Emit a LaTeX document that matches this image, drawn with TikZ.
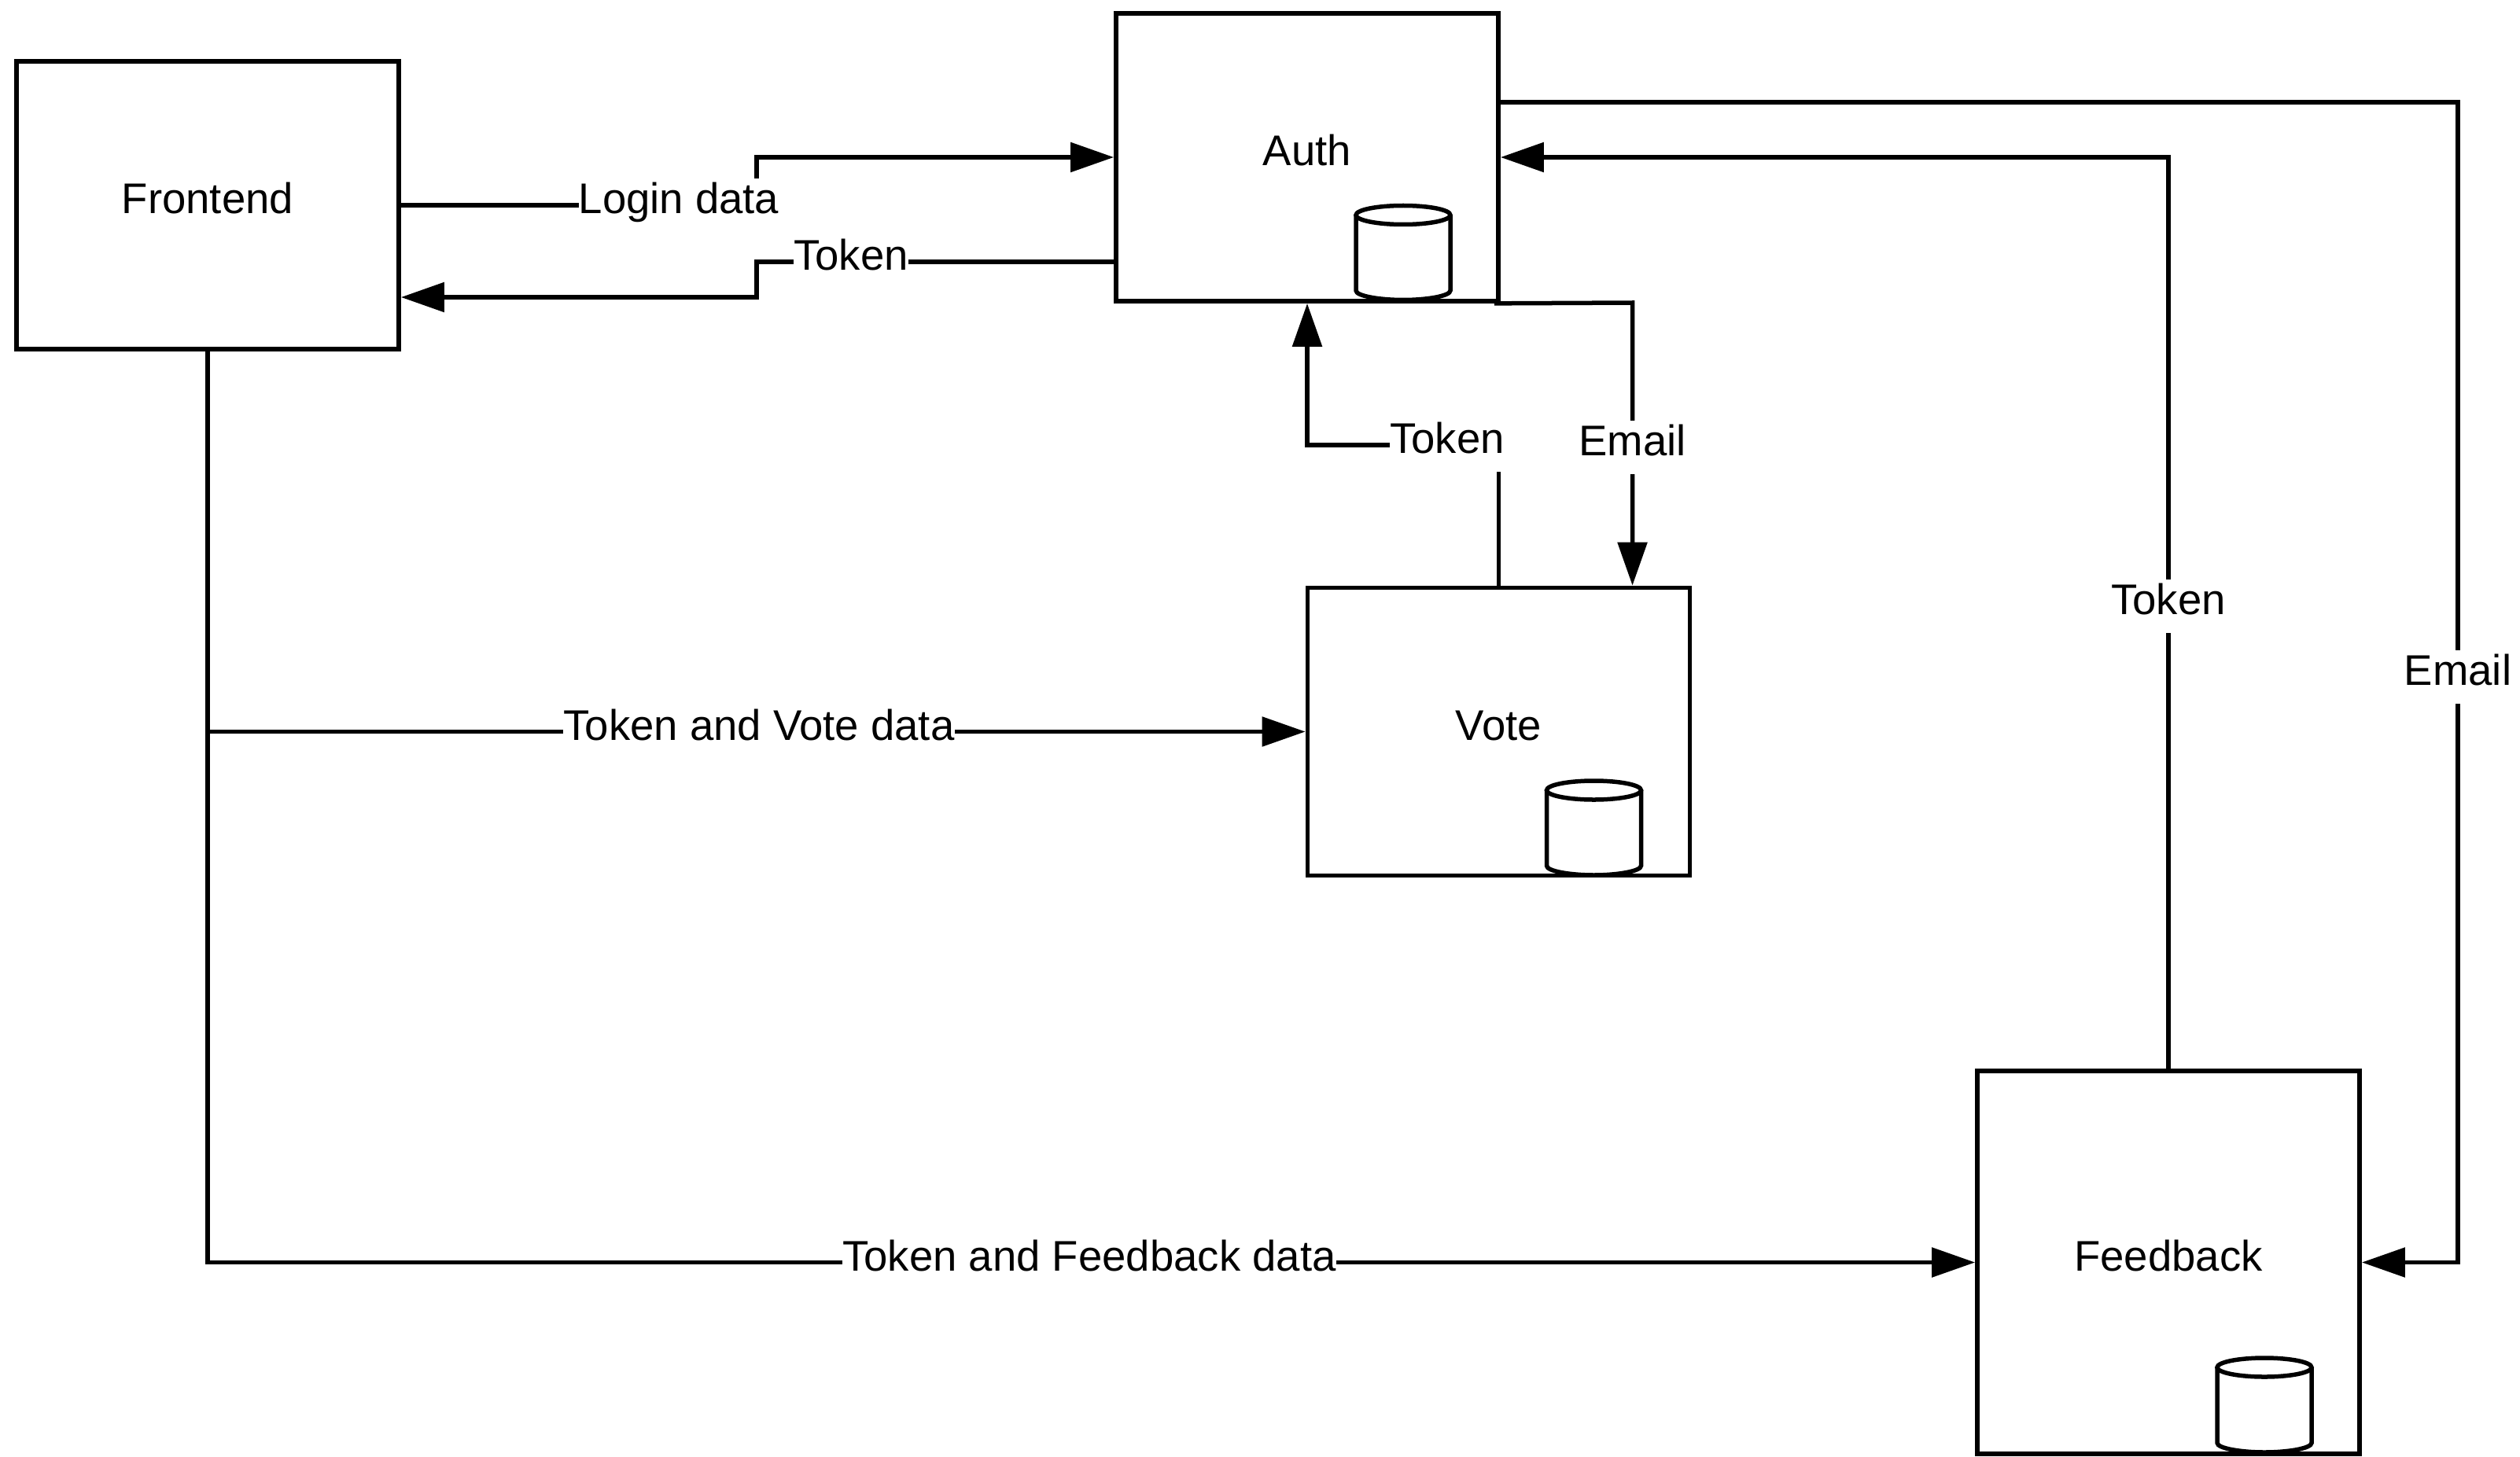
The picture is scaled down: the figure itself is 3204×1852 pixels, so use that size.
\documentclass[tikz,border=0pt]{standalone}
\usepackage{fontspec}
\setmainfont{Liberation Sans}
\usetikzlibrary{arrows.meta,calc}

\tikzset{
  service/.style={draw, inner sep=0pt, minimum width=4.86cm, minimum height=3.66cm, text height=0.44cm, text depth=0.23cm},
  flowlabel/.style={fill=white, inner sep=0pt, text height=0.44cm, text depth=0.23cm},
  flow/.style={-{Triangle[length=0.55cm,width=0.37cm]}},
  store/.pic={
    \draw (0,12) circle [x radius=60, y radius=12];
    \draw (-60,12) -- (-60,108) .. controls (-60,115) and (-30,120) .. (0,120) .. controls (30,120) and (60,115) .. (60,108) -- (60,12);
  }
}

\begin{document}
\begin{tikzpicture}[x=0.01cm, y=-0.01cm, line width=0.055cm, font=\fontsize{15.5pt}{18pt}\selectfont]
    \useasboundingbox (0,0) rectangle (3204,1852);

    \node[service] (frontend) at (264,261) { Frontend };
    \node[service] (auth) at (1662,200) { Auth };
    \node[service] (vote) at (1905.5,930.5) { Vote };
    \node[service, minimum height=4.87cm] (feedback) at (2757,1605.5) { Feedback };

    \pic at (1784,261.5) {store};
    \pic at (2026.5,993) {store};
    \pic at (2879,1727) {store};

    \coordinate (loginbend) at (962,200);
    \coordinate (tokenup) at (962,333);
    \coordinate (tokenlow) at (962,378);
    \coordinate (votebend) at (1662,566);
    \coordinate (emailbend) at (2075.5,385);
    \coordinate (mailout) at (3125,130);
    \coordinate (tokenback) at (2757,200);

    \draw[flow] (frontend.east) -| (loginbend) -- (auth.west);
    \draw[flow] (auth.west |- tokenup) -- (tokenup) -- (tokenlow) -- (frontend.east |- tokenlow);
    \draw[flow] (vote.north) |- (votebend) -- (auth.south);
    \draw[flow] ($(auth.south east)+(-8,0)$) -- (emailbend) -- (emailbend |- vote.north);
    \draw[flow] (auth.east |- mailout) -- (mailout) |- (feedback.east);
    \draw[flow] (feedback.north) |- (tokenback) -- (auth.east);
    \draw[flow] (frontend.south) |- (vote.west);
    \draw[flow] (frontend.south) |- (feedback.west);

    \node[flowlabel] (loginlabel) at (863,261) { Login data };
    \node[flowlabel] (tokenlabel) at (1082,333) { Token };
    \node[flowlabel] (votetoken) at (1840,566) { Token };
    \node[flowlabel] (voteemail) at (2075.5,569) { Email };
    \node[flowlabel] (feedbacktoken) at (2757,771) { Token };
    \node[flowlabel] (feedbackemail) at (3125,861) { Email };
    \node[flowlabel] (votedata) at (965,930.5) { Token and Vote data };
    \node[flowlabel] (feedbackdata) at (1385,1605.5) { Token and Feedback data };
\end{tikzpicture}
\end{document}
